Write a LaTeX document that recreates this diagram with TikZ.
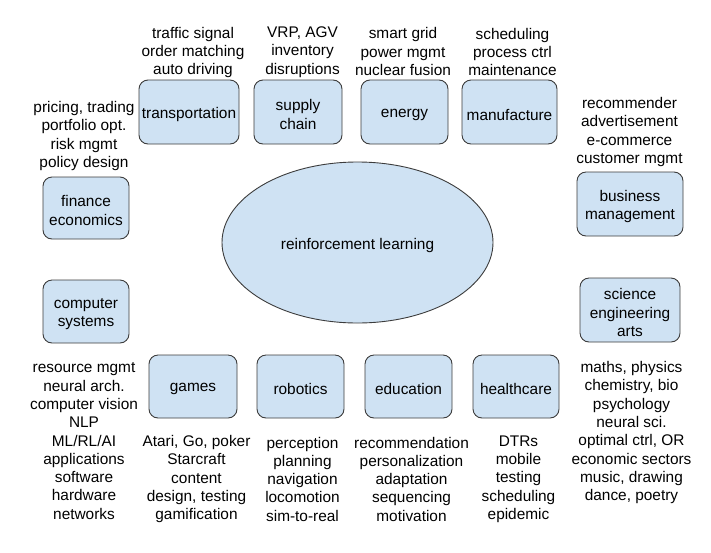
\documentclass[tikz,border=0pt]{standalone}
\usepackage{fontspec}
\setmainfont{Liberation Sans}
\usetikzlibrary{shapes.geometric}
\definecolor{boxfill}{HTML}{CFE2F3}
\definecolor{boxline}{HTML}{3C3C3C}
\begin{document}
\begin{tikzpicture}[x=1pt,y=-1pt,
  every node/.style={font=\fontsize{15.4}{18.3}\selectfont, align=center},
  lbl/.style={inner sep=0pt, yshift=-2.6pt},
  box/.style={draw=boxline, fill=boxfill, line width=0.9pt, rounded corners=9pt, inner sep=0pt, minimum height=64pt,
     label={[lbl]center:{#1}}},
  rl/.style={draw=boxline, fill=boxfill, line width=0.9pt, ellipse, minimum width=271pt, minimum height=161pt, inner sep=0pt,
     label={[lbl]center:{#1}}},
  items/.style={inner sep=0pt, yshift=-2.6pt}]
\useasboundingbox (0,0) rectangle (711,552);
% centre
\node[rl={reinforcement learning}] (rl) at (357.5,242.5) {};
% top row
\node[box={transportation}, minimum width=100pt] (transp) at (189,112) {};
\node[box={supply\\chain}, minimum width=88pt] (supply) at (298,112) {};
\node[box={energy}, minimum width=87pt] (energy) at (404.5,112) {};
\node[box={manufacture}, minimum width=95pt] (manuf) at (509.5,112) {};
% left column
\node[box={finance\\economics}, minimum width=86pt, minimum height=62pt] (finance) at (86,208) {};
\node[box={computer\\systems}, minimum width=86pt, minimum height=63pt] (compsys) at (86,311.5) {};
% right column
\node[box={business\\management}, minimum width=106pt] (business) at (630,204) {};
\node[box={science\\engineering\\arts}, minimum width=100pt] (science) at (630,310) {};
% bottom row
\node[box={games}, minimum width=88pt, minimum height=63pt] (games) at (193,386.5) {};
\node[box={robotics}, minimum width=87pt, minimum height=63pt] (robotics) at (300.5,386.5) {};
\node[box={education}, minimum width=87pt, minimum height=63pt] (education) at (408.5,386.5) {};
\node[box={healthcare}, minimum width=86pt, minimum height=63pt] (health) at (516,386.5) {};
% item lists
\node[items] (transpT) at (193,50) {traffic signal\\order matching\\auto driving};
\node[items] (supplyT) at (302.5,49.5) {VRP, AGV\\inventory\\disruptions};
\node[items] (energyT) at (403,49) {smart grid\\power mgmt\\nuclear fusion};
\node[items] (manufT) at (512.5,49.5) {scheduling\\process ctrl\\maintenance};
\node[items] (financeT) at (84,133.5) {pricing, trading\\portfolio opt.\\risk mgmt\\policy design};
\node[items] (businessT) at (629.5,129.5) {recommender\\advertisement\\e-commerce\\customer mgmt};
\node[items] (compsysT) at (84,438.5) {resource mgmt\\neural arch.\\computer vision\\NLP\\ML/RL/AI\\applications\\software\\hardware\\networks};
\node[items] (scienceT) at (631.5,430) {maths, physics\\chemistry, bio\\psychology\\neural sci.\\optimal ctrl, OR\\economic sectors\\music, drawing\\dance, poetry};
\node[items] (gamesT) at (196.5,476.5) {Atari, Go, poker\\Starcraft\\content\\design, testing\\gamification};
\node[items] (roboticsT) at (302.5,476.5) {perception\\planning\\navigation\\locomotion\\sim-to-real};
\node[items] (educationT) at (411.5,476.5) {recommendation\\personalization\\adaptation\\sequencing\\motivation};
\node[items] (healthT) at (518.5,476.5) {DTRs\\mobile\\testing\\scheduling\\epidemic};
\end{tikzpicture}
\end{document}
